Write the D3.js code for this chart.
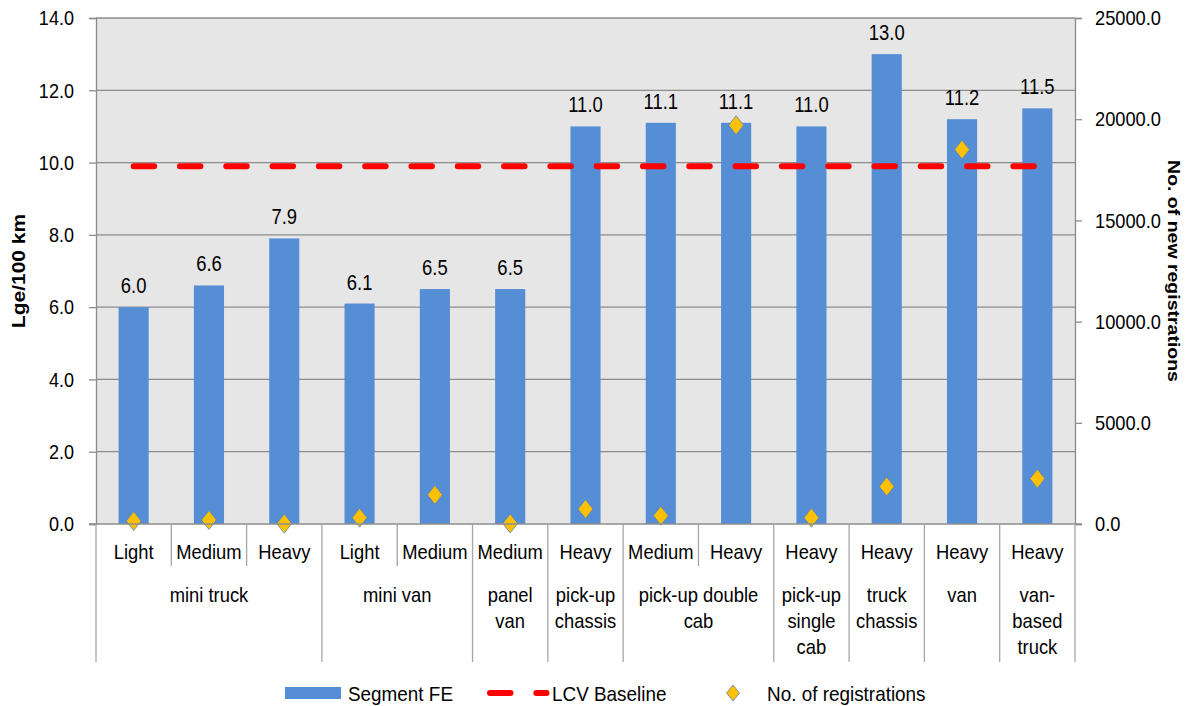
<!DOCTYPE html>
<html>
<head>
<meta charset="utf-8">
<script src="https://cdn.jsdelivr.net/npm/d3@7"></script>
<style>
  html, body { margin: 0; padding: 0; background: #ffffff; }
  svg { display: block; }
  text { font-family: 'Liberation Sans', Arial, sans-serif; fill: #000; }
</style>
</head>
<body>
<svg id="chart" width="1200" height="706"></svg>
<script>
// Segment fuel economy (bars, left axis) and new registrations (diamonds, right axis)
const subLabels = ["Light", "Medium", "Heavy", "Light", "Medium", "Medium", "Heavy", "Medium", "Heavy", "Heavy", "Heavy", "Heavy", "Heavy"];
const groupNames = ["mini truck", "mini van", "panel van", "pick-up chassis", "pick-up double cab", "pick-up single cab", "truck chassis", "van", "van-based truck"];
const groupSizes = [3, 2, 1, 1, 2, 1, 1, 1, 1];
const groupLines = [["mini truck"], ["mini van"], ["panel", "van"], ["pick-up", "chassis"], ["pick-up double", "cab"], ["pick-up", "single", "cab"], ["truck", "chassis"], ["van"], ["van-", "based", "truck"]];
const segmentFE = [6.0, 6.6, 7.9, 6.1, 6.5, 6.5, 11.0, 11.1, 11.1, 11.0, 13.0, 11.2, 11.5];
const lcvBaseline = 9.9;
const registrations = [150, 200, 20, 310, 1440, 30, 740, 410, 19700, 310, 1850, 18500, 2240];
const leftTicks = [0, 2, 4, 6, 8, 10, 12, 14];
const rightTicks = [0, 5000, 10000, 15000, 20000, 25000];

const svg = d3.select("#chart");
const plot = { left: 96, right: 1075, top: 18, bottom: 524 };

const ids = d3.range(subLabels.length);
const x = d3.scaleBand().domain(ids).range([plot.left, plot.right]).paddingInner(0).paddingOuter(0);
const yL = d3.scaleLinear().domain([0, 14]).range([plot.bottom, plot.top]);
const yR = d3.scaleLinear().domain([0, 25000]).range([plot.bottom, plot.top]);

const gridColor = "#8c8c8c";
const barColor = "#558ed5";

// Narrow type: place text at (x, y) and compress it horizontally by s
function placeNarrow(sel, px, py, s) {
  sel.attr("x", 0).attr("y", 0)
     .attr("transform", (d, i, n) => `translate(${typeof px === "function" ? px(d, i, n) : px},${typeof py === "function" ? py(d, i, n) : py}) scale(${s},1)`);
  return sel;
}

// plot background
svg.append("rect")
  .attr("x", plot.left).attr("y", plot.top)
  .attr("width", plot.right - plot.left).attr("height", plot.bottom - plot.top)
  .attr("fill", "#e6e6e6");

// horizontal gridlines
svg.append("g").selectAll("line").data(leftTicks.filter(d => d > 0)).join("line")
  .attr("x1", plot.left).attr("x2", plot.right)
  .attr("y1", d => yL(d)).attr("y2", d => yL(d))
  .attr("stroke", gridColor).attr("stroke-width", 1.3);

// axes with condensed tick labels
function styleAxis(g, s) {
  g.select(".domain").attr("stroke", gridColor).attr("stroke-width", 1.3);
  g.selectAll(".tick line").attr("stroke", gridColor).attr("stroke-width", 1.3);
  g.selectAll(".tick text").each(function () {
    const t = d3.select(this);
    const x0 = +t.attr("x");
    t.attr("x", 0).attr("transform", `translate(${x0},0) scale(${s},1)`)
     .attr("font-size", 21).attr("font-family", null).attr("fill", "#000");
  });
}

const leftAxis = svg.append("g").attr("transform", `translate(${plot.left},0)`)
  .call(d3.axisLeft(yL).tickValues(leftTicks).tickFormat(d3.format(".1f")).tickSize(7).tickPadding(15));
styleAxis(leftAxis, 0.86);

const rightAxis = svg.append("g").attr("transform", `translate(${plot.right},0)`)
  .call(d3.axisRight(yR).tickValues(rightTicks).tickFormat(d3.format(".1f")).tickSize(7).tickPadding(13));
styleAxis(rightAxis, 0.87);

// bars
const barW = x.bandwidth() * 0.4;
svg.append("g").selectAll("rect").data(ids).join("rect")
  .attr("x", i => x(i) + (x.bandwidth() - barW) / 2)
  .attr("y", i => yL(segmentFE[i]))
  .attr("width", barW)
  .attr("height", i => yL(0) - yL(segmentFE[i]))
  .attr("fill", barColor);

const cx = i => x(i) + x.bandwidth() / 2;

// bar value labels
placeNarrow(
  svg.append("g").selectAll("text").data(ids).join("text")
    .attr("text-anchor", "middle")
    .attr("font-size", 22.5)
    .text(i => d3.format(".1f")(segmentFE[i])),
  i => cx(i), i => yL(segmentFE[i]) - 14, 0.82);

// LCV baseline dashed line across category centres
svg.append("line")
  .attr("x1", cx(0)).attr("x2", cx(ids.length - 1))
  .attr("y1", yL(lcvBaseline)).attr("y2", yL(lcvBaseline))
  .attr("stroke", "#ff0000").attr("stroke-width", 6)
  .attr("stroke-linecap", "round")
  .attr("stroke-dasharray", "20.5 25.8");

// diamond marker path
const diamond = (hw, hh) => `M0,${-hh}L${hw},0L0,${hh}L${-hw},0Z`;

// registrations markers
svg.append("g").selectAll("path").data(ids).join("path")
  .attr("transform", i => `translate(${cx(i)},${yR(registrations[i])})`)
  .attr("d", diamond(7.5, 9.5))
  .attr("fill", "#ffc000")
  .attr("stroke", "#4f81bd").attr("stroke-width", 0.8);

// bottom axis line
svg.append("line")
  .attr("x1", plot.left - 7).attr("x2", plot.right + 7)
  .attr("y1", plot.bottom).attr("y2", plot.bottom)
  .attr("stroke", gridColor).attr("stroke-width", 1.3);

// category separators: short within a group, long at group edges
const groupStarts = [];
groupSizes.reduce((acc, n) => { groupStarts.push(acc); return acc + n; }, 0);
const groupEdges = new Set(groupStarts.concat([ids.length]));
const sepY1 = 566, sepY2 = 662;
const sepG = svg.append("g");
d3.range(ids.length + 1).forEach(k => {
  const xx = k < ids.length ? x(k) : plot.right;
  sepG.append("line")
    .attr("x1", xx).attr("x2", xx)
    .attr("y1", plot.bottom).attr("y2", groupEdges.has(k) ? sepY2 : sepY1)
    .attr("stroke", "#a6a6a6").attr("stroke-width", 1.3);
});

// sub-category labels
placeNarrow(
  svg.append("g").selectAll("text").data(ids).join("text")
    .attr("text-anchor", "middle")
    .attr("font-size", 20)
    .text(i => subLabels[i]),
  i => cx(i), 559, 0.92);

// group labels (wrapped)
const groupG = svg.append("g");
groupNames.forEach((name, gi) => {
  const start = groupStarts[gi];
  const end = start + groupSizes[gi];
  const mid = (x(start) + (end < ids.length ? x(end) : plot.right)) / 2;
  const t = groupG.append("text")
    .attr("text-anchor", "middle")
    .attr("font-size", 20)
    .attr("aria-label", name)
    .attr("transform", `translate(${mid},602) scale(0.92,1)`);
  groupLines[gi].forEach((line, li) => {
    t.append("tspan").attr("x", 0).attr("y", li * 26).text(line);
  });
});

// axis titles
svg.append("text")
  .attr("transform", `translate(25,${(plot.top + plot.bottom) / 2}) rotate(-90) scale(1,0.85)`)
  .attr("text-anchor", "middle")
  .attr("font-size", 21).attr("font-weight", "bold")
  .text("Lge/100 km");

svg.append("text")
  .attr("transform", `translate(1168,${(plot.top + plot.bottom) / 2}) rotate(90) scale(1,0.85)`)
  .attr("text-anchor", "middle")
  .attr("font-size", 19.5).attr("font-weight", "bold")
  .text("No. of new registrations");

// legend
const legY = 693;
const leg = svg.append("g");
leg.append("rect").attr("x", 285).attr("y", legY - 6).attr("width", 56).attr("height", 12).attr("fill", barColor);
leg.append("text").attr("font-size", 21).attr("transform", `translate(348,${legY + 7.5}) scale(0.9,1)`).text("Segment FE");
leg.append("line")
  .attr("x1", 490).attr("x2", 546.5).attr("y1", legY).attr("y2", legY)
  .attr("stroke", "#ff0000").attr("stroke-width", 6)
  .attr("stroke-linecap", "round").attr("stroke-dasharray", "20.5 25.8");
leg.append("text").attr("font-size", 21).attr("transform", `translate(552,${legY + 7.5}) scale(0.9,1)`).text("LCV Baseline");
leg.append("path").attr("transform", `translate(733,${legY})`).attr("d", diamond(6.5, 8))
  .attr("fill", "#ffc000").attr("stroke", "#4f81bd").attr("stroke-width", 0.8);
leg.append("text").attr("font-size", 21).attr("transform", `translate(767,${legY + 7.5}) scale(0.9,1)`).text("No. of registrations");
</script>
</body>
</html>
